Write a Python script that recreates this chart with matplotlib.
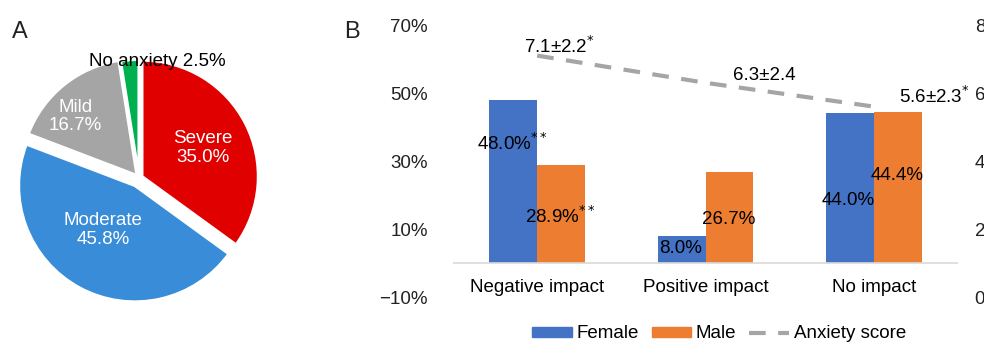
import matplotlib.pyplot as plt
import matplotlib.patches as mpatches
from matplotlib.lines import Line2D

plt.rcParams['font.family'] = ['Liberation Sans', 'DejaVu Sans']

# panel A data
levels = ['Severe', 'Moderate', 'Mild', 'No anxiety']
shares = [35.0, 45.8, 16.7, 2.5]
pie_colors = ['#e00000', '#388cd8', '#a5a5a5', '#00b050']

# panel B data
categories = ['Negative impact', 'Positive impact', 'No impact']
female = [48.0, 8.0, 44.0]
male = [28.9, 26.7, 44.4]
female_labels = ['48.0%$^{**}$', '8.0%', '44.0%']
male_labels = ['28.9%$^{**}$', '26.7%', '44.4%']
anxiety = [7.1, 6.3, 5.6]
anxiety_labels = ['7.1±2.2$^{*}$', '6.3±2.4', '5.6±2.3$^{*}$']

W, H = 984, 342
FS = 13.5
fig = plt.figure(figsize=(W / 100, H / 100), dpi=100)


def px_axes(x0, y0, x1, y1):
    return fig.add_axes([x0 / W, 1 - y1 / H, (x1 - x0) / W, (y1 - y0) / H])


# ---- A: pie
axp = px_axes(9, 48, 269, 308)
wedges, _ = axp.pie(shares, colors=pie_colors, startangle=90, counterclock=False,
                    explode=[0.03, 0.075, 0.03, 0.02],
                    wedgeprops=dict(edgecolor='white', linewidth=2))
axp.set_xlim(-1.12, 1.12)
axp.set_ylim(-1.12, 1.12)
axp.set_aspect('equal')
axp.axis('off')
axp.text(0.55, 0.26, 'Severe\n35.0%', color='white', ha='center', va='center',
         fontsize=FS, linespacing=1.15)
axp.text(-0.31, -0.45, 'Moderate\n45.8%', color='white', ha='center', va='center',
         fontsize=FS, linespacing=1.15)
axp.text(-0.55, 0.53, 'Mild\n16.7%', color='white', ha='center', va='center',
         fontsize=FS, linespacing=1.15)
axp.text(0.16, 1.0, 'No anxiety 2.5%', color='black', ha='center', va='center',
         fontsize=FS)

fig.text(12 / W, 1 - 32 / H, 'A', fontsize=17, va='center', ha='left', color='#222222')
fig.text(344 / W, 1 - 32 / H, 'B', fontsize=17, va='center', ha='left', color='#222222')

# ---- B: bars + line
ax = px_axes(453, 25, 958, 297)
x = range(len(categories))
bw = 0.285
ax.bar([i - bw / 2 for i in x], female, width=bw, color='#4472c4', label='Female')
ax.bar([i + bw / 2 for i in x], male, width=bw, color='#ed7d31', label='Male')
ax.axhline(0, color='#d9d9d9', lw=1.2)
ax.set_xlim(-0.5, 2.5)
ax.set_ylim(-10, 70)
ax.set_yticks([-10, 10, 30, 50, 70])
ax.set_yticklabels(['\u221210%', '10%', '30%', '50%', '70%'])
ax.set_xticks([])
for s in ax.spines.values():
    s.set_visible(False)
ax.tick_params(axis='y', length=0, pad=18, labelsize=FS, colors='#222222')

for i, lbl, dy in zip(x, female_labels, [35.3, 4.4, 18.5]):
    ax.text(i - 0.15, dy, lbl, ha='center', va='center', fontsize=FS)
for i, lbl, dy in zip(x, male_labels, [13.8, 12.9, 25.6]):
    ax.text(i + 0.136, dy, lbl, ha='center', va='center', fontsize=FS)

# category labels under the baseline
for i, c in zip(x, categories):
    ax.text(i, -7.3, c, ha='center', va='center', fontsize=FS)

ax2 = ax.twinx()
ax2.plot(list(x), anxiety, color='#a5a5a5', lw=3, dashes=(4, 3), label='Anxiety score')
ax2.set_ylim(0, 8)
ax2.set_yticks([0, 2, 4, 6, 8])
ax2.set_xlim(-0.5, 2.5)
for s in ax2.spines.values():
    s.set_visible(False)
ax2.tick_params(axis='y', length=0, pad=12, labelsize=FS, colors='#222222')
for xi, yv, lbl, (ox, oy) in zip(x, anxiety, anxiety_labels,
                                 [(0.13, 0.27), (0.35, 0.2), (0.36, 0.3)]):
    ax2.text(xi + ox, yv + oy, lbl, ha='center', va='center', fontsize=FS)

handles = [mpatches.Patch(color='#4472c4', label='Female'),
           mpatches.Patch(color='#ed7d31', label='Male'),
           Line2D([0], [0], color='#a5a5a5', lw=3, dashes=(4, 3), label='Anxiety score')]
fig.legend(handles=handles, loc='center', bbox_to_anchor=(719 / W, 1 - 334 / H),
           ncol=3, frameon=False, fontsize=FS, handlelength=2.1, handleheight=0.5,
           handletextpad=0.25, columnspacing=0.7, borderpad=0)

fig.savefig('out.png', dpi=100)
